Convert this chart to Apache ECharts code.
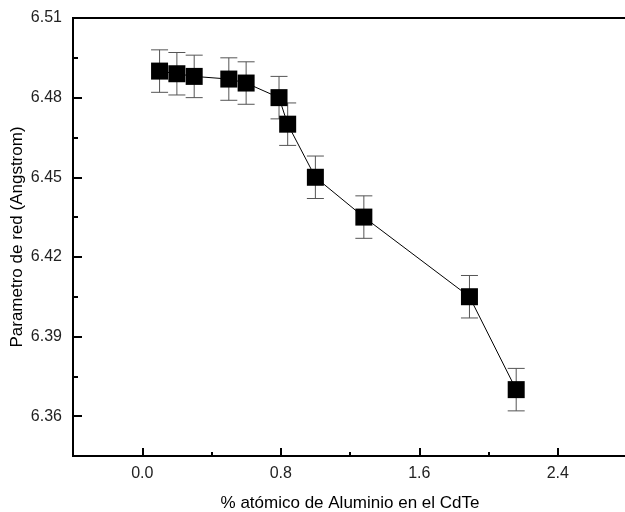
<!DOCTYPE html>
<html>
<head>
<meta charset="UTF-8">
<title>Parametro de red</title>
<script src="https://cdn.jsdelivr.net/npm/echarts@6/dist/echarts.min.js"></script>
<style>
  html, body { margin: 0; padding: 0; background: #fff; }
  #main { width: 625px; height: 512px; }
</style>
</head>
<body>
<div id="main"></div>
<script type="text/javascript">
// datos
var aluminio = [0.1, 0.2, 0.3, 0.5, 0.6, 0.79, 0.84, 1.0, 1.28, 1.89, 2.16];
var parametro = [6.490, 6.489, 6.488, 6.487, 6.4855, 6.480, 6.470, 6.450, 6.435, 6.405, 6.370];
var errorY = [0.008, 0.008, 0.008, 0.008, 0.008, 0.008, 0.008, 0.008, 0.008, 0.008, 0.008];

var xLabels = [0.0, 0.8, 1.6, 2.4];
var xMinor = [0.4, 1.2, 2.0];
var yLabels = [6.36, 6.39, 6.42, 6.45, 6.48, 6.51];
var yMinor = [6.375, 6.405, 6.435, 6.465, 6.495];

var puntos = aluminio.map(function (x, i) { return [x, parametro[i]]; });
var barras = aluminio.map(function (x, i) { return [x, parametro[i] - errorY[i], parametro[i] + errorY[i]]; });

var font = 'Liberation Sans, Arial, sans-serif';
var chart = echarts.init(document.getElementById('main'));

chart.setOption({
    animation: false,
    grid: {
        left: 73, top: 18, width: 554, height: 438,
        outerBoundsMode: 'none', containLabel: false,
        show: true, borderColor: '#000', borderWidth: 2
    },
    xAxis: [{
        type: 'value', min: -0.4, max: 2.8,
        name: '% atómico de Aluminio en el CdTe',
        nameLocation: 'middle', nameGap: 39, nameMoveOverlap: false,
        nameTextStyle: { fontFamily: font, fontSize: 17, color: '#000' },
        splitLine: { show: false },
        axisLine: { onZero: false, lineStyle: { color: '#000', width: 2 } },
        axisTick: { inside: true, length: 8, customValues: xLabels, lineStyle: { color: '#000', width: 2 } },
        axisLabel: {
            customValues: xLabels, margin: 10,
            fontFamily: font, fontSize: 16, color: '#222',
            formatter: function (v) { return v.toFixed(1); }
        }
    }, {
        type: 'value', min: -0.4, max: 2.8, position: 'bottom',
        splitLine: { show: false },
        axisLine: { show: false, onZero: false },
        axisTick: { inside: true, length: 4, customValues: xMinor, lineStyle: { color: '#000', width: 2 } },
        axisLabel: { show: false }
    }],
    yAxis: [{
        type: 'value', min: 6.345, max: 6.51,
        name: 'Parametro de red (Angstrom)',
        nameLocation: 'middle', nameGap: 47, nameMoveOverlap: false,
        nameTextStyle: { fontFamily: font, fontSize: 17, color: '#000' },
        splitLine: { show: false },
        axisLine: { onZero: false, lineStyle: { color: '#000', width: 2 } },
        axisTick: { inside: true, length: 9, customValues: yLabels, lineStyle: { color: '#000', width: 2 } },
        axisLabel: {
            customValues: yLabels, margin: 11,
            fontFamily: font, fontSize: 16, color: '#222',
            formatter: function (v) { return v.toFixed(2); }
        }
    }, {
        type: 'value', min: 6.345, max: 6.51, position: 'left',
        splitLine: { show: false },
        axisLine: { show: false, onZero: false },
        axisTick: { inside: true, length: 5, customValues: yMinor, lineStyle: { color: '#000', width: 2 } },
        axisLabel: { show: false }
    }],
    series: [{
        // barras de error
        type: 'custom',
        z: 1,
        data: barras,
        renderItem: function (params, api) {
            var x = api.value(0);
            var lo = api.coord([x, api.value(1)]);
            var hi = api.coord([x, api.value(2)]);
            var w = 8.5;
            var st = { stroke: '#555', lineWidth: 1 };
            return {
                type: 'group',
                children: [
                    { type: 'line', shape: { x1: lo[0], y1: lo[1], x2: hi[0], y2: hi[1] }, style: st },
                    { type: 'line', shape: { x1: lo[0] - w, y1: lo[1], x2: lo[0] + w, y2: lo[1] }, style: st },
                    { type: 'line', shape: { x1: hi[0] - w, y1: hi[1], x2: hi[0] + w, y2: hi[1] }, style: st }
                ]
            };
        }
    }, {
        type: 'line',
        z: 3,
        data: puntos,
        symbol: 'rect',
        symbolSize: 17,
        itemStyle: { color: '#000' },
        lineStyle: { color: '#000', width: 1 }
    }]
});
</script>
</body>
</html>
